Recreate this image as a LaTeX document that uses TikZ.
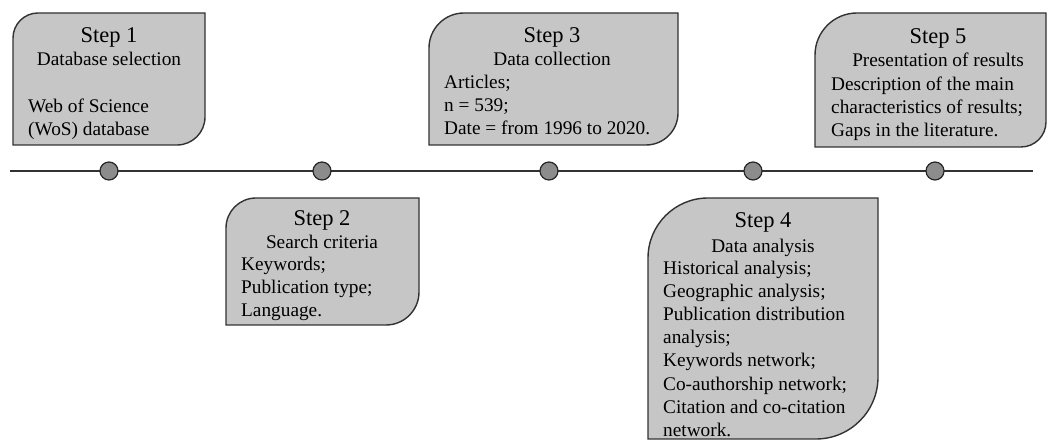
\documentclass[tikz,border=0pt]{standalone}
\usepackage{fontspec}
\setmainfont{Liberation Serif}
\definecolor{boxgray}{RGB}{198,198,198}
\definecolor{dotgray}{RGB}{140,140,140}
\definecolor{linegray}{RGB}{50,50,50}

\begin{document}
\begin{tikzpicture}[x=1pt,y=1pt,
  stepshape/.style={draw=linegray,fill=boxgray,line width=1.4pt},
  head/.style={anchor=north,inner sep=0pt,align=center,font=\fontsize{19.3}{23}\selectfont},
  body/.style={anchor=north west,inner sep=0pt,align=left,font=\fontsize{19.3}{23}\selectfont},
  dot/.style={circle,draw=black!85,fill=dotgray,line width=1.2pt,minimum size=18pt,inner sep=0pt}]
\useasboundingbox (0,0) rectangle (1048,441);

% time line
\coordinate (tl-start) at (10,270);
\coordinate (tl-end) at (1033,270);
\draw[linegray,line width=1.5pt] (tl-start) -- (tl-end);

\node[dot] (d1) at (109,270) {};
\node[dot] (d2) at (322,270) {};
\node[dot] (d3) at (549,270) {};
\node[dot] (d4) at (753,270) {};
\node[dot] (d5) at (935,270) {};

% step 1
\draw[stepshape] (13,296) -- (13,403) arc[start angle=180,end angle=90,radius=25pt]
 -- (205,428) -- (205,324) arc[start angle=0,end angle=-90,radius=28pt] -- cycle;
\node[head] (s1head) at (109,414) {{\fontsize{22.5}{23}\selectfont Step 1}\\Database selection};
\node[body] (s1text) at (28,342) {Web of Science\\(WoS) database};

% step 2
\draw[stepshape] (226,116) -- (226,213) arc[start angle=180,end angle=90,radius=30pt]
 -- (419,243) -- (419,149) arc[start angle=0,end angle=-90,radius=33pt] -- cycle;
\node[head] (s2head) at (322,231) {{\fontsize{22.5}{23}\selectfont Step 2}\\Search criteria};
\node[body] (s2text) at (241,184) {Keywords;\\Publication type;\\Language.};

% step 3
\draw[stepshape] (429,296) -- (429,393) arc[start angle=180,end angle=90,radius=35pt]
 -- (678,428) -- (678,328) arc[start angle=0,end angle=-90,radius=32pt] -- cycle;
\node[head] (s3head) at (552,414) {{\fontsize{22.5}{23}\selectfont Step 3}\\Data collection};
\node[body] (s3text) at (444,366) {Articles;\\n = 539;\\Date = from 1996 to 2020.};

% step 4
\draw[stepshape] (648,2) -- (648,183) arc[start angle=180,end angle=90,radius=60pt]
 -- (878,243) -- (878,64) arc[start angle=0,end angle=-90,radius=62pt] -- cycle;
\node[head,font=\fontsize{19.3}{25}\selectfont] (s4head) at (763,229) {{\fontsize{22.5}{25}\selectfont Step 4}\\Data analysis};
\node[body,font=\fontsize{19.3}{23.1}\selectfont] (s4text) at (663,180) {Historical analysis;\\Geographic analysis;\\Publication distribution\\analysis;\\Keywords network;\\Co-authorship network;\\Citation and co-citation\\network.};

% step 5
\draw[stepshape] (815,294) -- (815,386) arc[start angle=180,end angle=90,radius=42pt]
 -- (1046,428) -- (1046,319) arc[start angle=0,end angle=-90,radius=25pt] -- cycle;
\node[head] (s5head) at (938,413) {{\fontsize{22.5}{23}\selectfont Step 5}\\Presentation of results};
\node[body] (s5text) at (831,364) {Description of the main\\characteristics of results;\\Gaps in the literature.};
\end{tikzpicture}
\end{document}
